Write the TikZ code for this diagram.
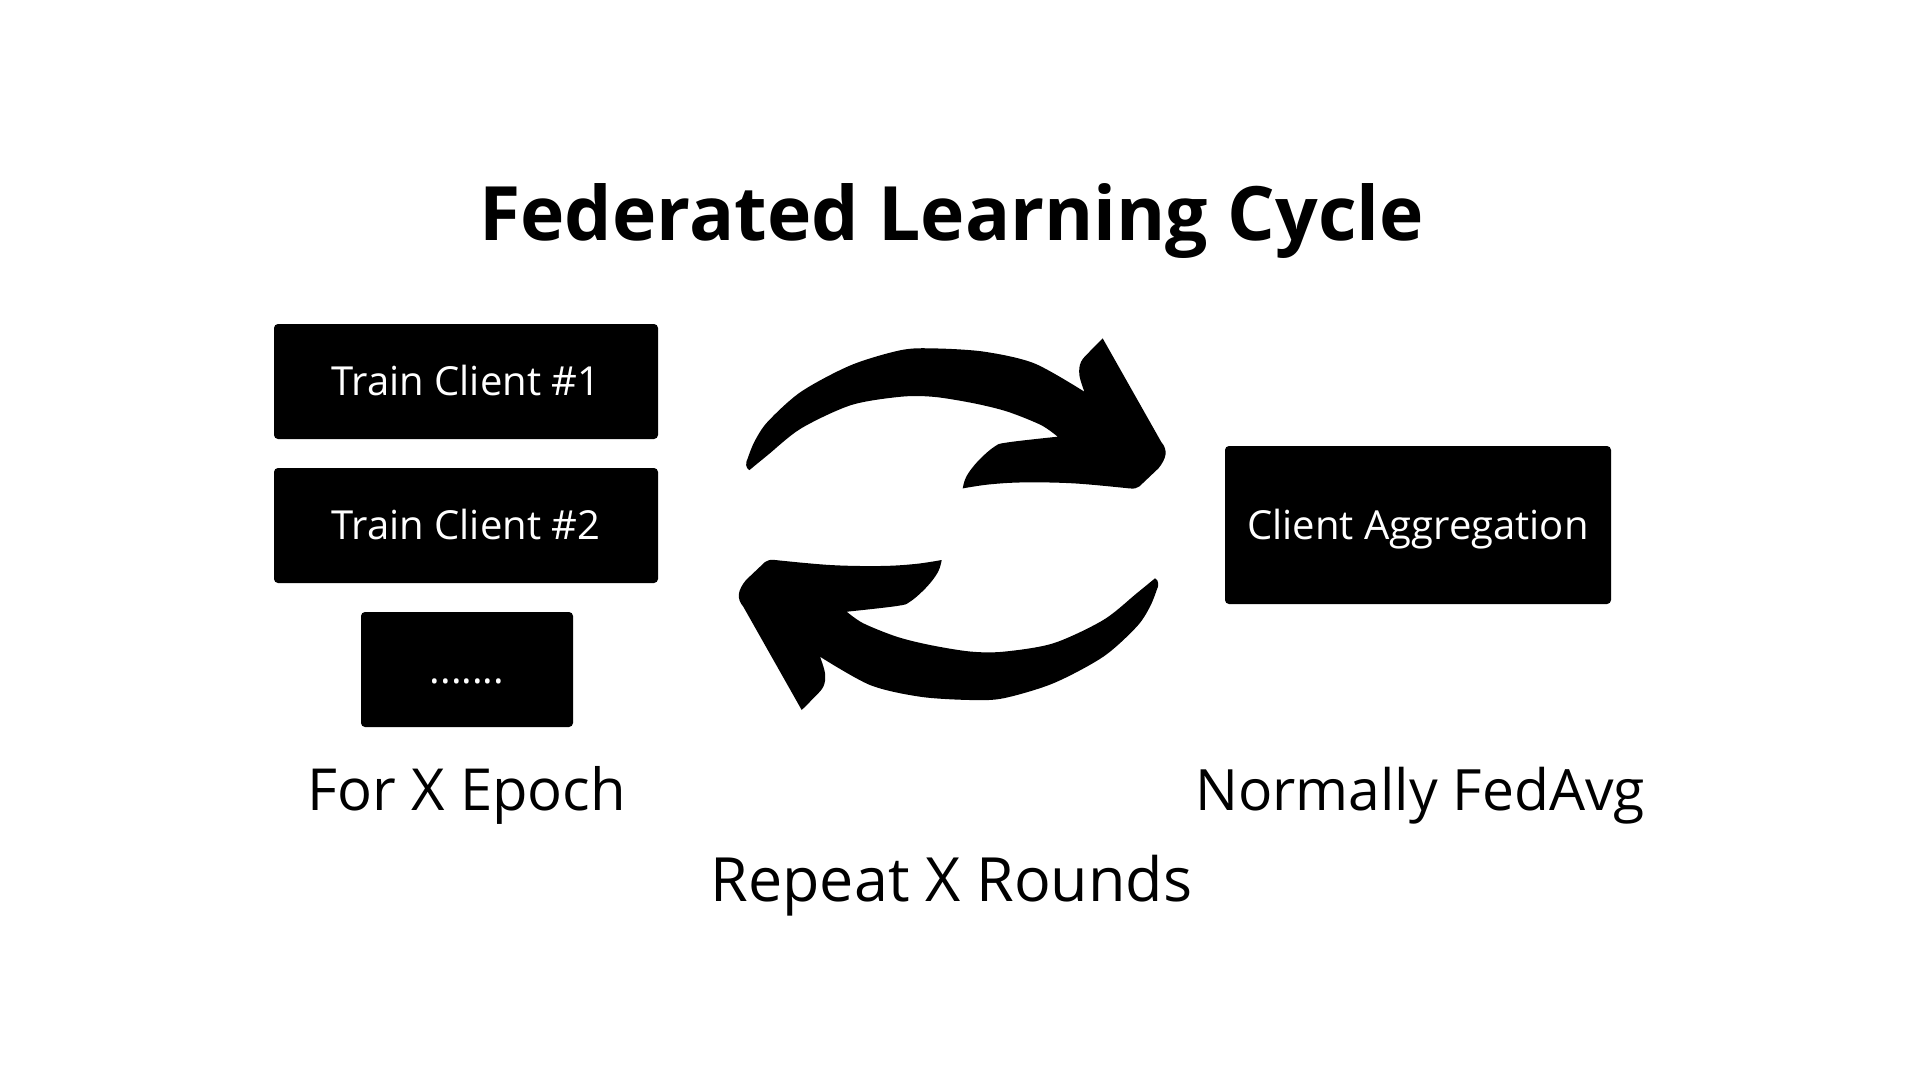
\documentclass[tikz,border=0pt]{standalone}
\usepackage{fontspec}
\setmainfont{Open Sans}
\begin{document}
\begin{tikzpicture}[x=1pt,y=-1pt,
  box/.style={fill=black, rounded corners=4pt, inner sep=0pt, text=white,
    font=\fontsize{40}{48}\selectfont, text height=28pt, text depth=0pt, align=center},
  label/.style={anchor=base, inner sep=0pt, text=black}]
\useasboundingbox (0,0) rectangle (1920,1080);
\fill[white] (0,0) rectangle (1920,1080);
% title
\node[label, font=\fontsize{75}{88}\selectfont\bfseries] (title) at (951.7,240) {Federated Learning Cycle};
% boxes
\node[box, minimum width=384pt, minimum height=115pt] (c1) at (466,381.5) {Train Client \#1};
\node[box, minimum width=384pt, minimum height=115pt] (c2) at (466,525.5) {Train Client \#2};
\node[box, minimum width=212pt, minimum height=115pt] (c3) at (467,669.5) {.......};
\node[box, minimum width=386pt, minimum height=158pt] (agg) at (1418,525) {Client Aggregation};
% labels
\node[label, font=\fontsize{58}{68}\selectfont] (epoch) at (467,810) {For X Epoch};
\node[label, font=\fontsize{57}{66}\selectfont] (fedavg) at (1420,810) {Normally FedAvg};
\node[label, font=\fontsize{61}{72}\selectfont] (rounds) at (951.5,901.7) {Repeat X Rounds};
% cycle arrows
\def\cyclearrow{(743.3,606.7) .. controls (736,598) and (738,590) .. (746,580) -- (765,562) .. controls (768,560) and (770,559.5) .. (775,560)
  -- plot[smooth,tension=0.6] coordinates {(775,560) (830,565) (880,566) (915,564) (941.7,560)}
  -- plot[smooth,tension=0.6] coordinates {(941.7,560) (938,572) (926.7,587) (910,601.7) (896.7,606) (846.7,611.7)}
  -- plot[smooth] coordinates {(846.7,611.7) (863.3,623.3) (896.7,636.7) (930,645) (970,651.5) (1003.3,651.7) (1053.3,643.3) (1103.3,620) (1136.7,593.3) (1155,578.3)}
  .. controls (1159,580) and (1159,586) .. (1156.7,590)
  -- plot[smooth] coordinates {(1156.7,590) (1150,606.7) (1136.7,626.7) (1103.3,656.7) (1053.3,683.3) (1003.3,698.3) (970,700) (920,696.7) (870,685) (820,656.7)}
  -- plot[smooth,tension=0.6] coordinates {(820,656.7) (825,673.3) (823.3,686.7) (813.3,698.3) (801.7,710)}
  -- cycle}
\fill[black] \cyclearrow;
\fill[black, rotate around={180:(952.2,524.2)}] \cyclearrow;
\end{tikzpicture}
\end{document}
